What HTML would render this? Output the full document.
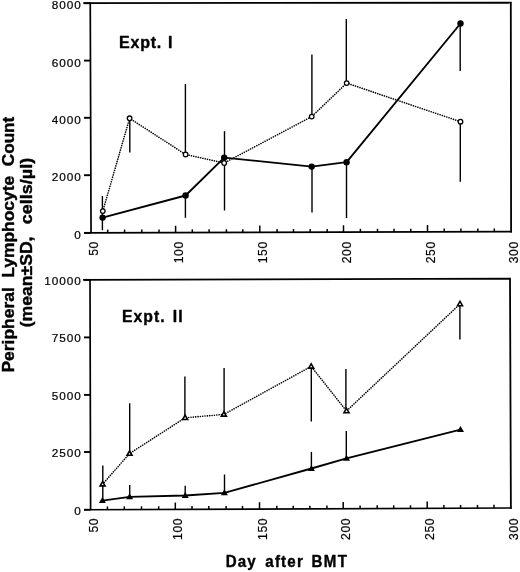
<!DOCTYPE html>
<html><head><meta charset="utf-8"><style>
html,body{margin:0;padding:0;background:#fff;}
svg{display:block;filter:grayscale(1);}
.tl{font-family:"Liberation Sans",sans-serif;fill:#000;stroke:#000;stroke-width:0.2px;}
.bl{font-family:"Liberation Sans",sans-serif;font-weight:bold;fill:#000;stroke:#000;stroke-width:0.4px;stroke-linejoin:round;}
</style></head><body>
<svg width="520" height="572" viewBox="0 0 520 572">
<rect width="520" height="572" fill="#fff"/>
<path d="M83.3 3.15L511.8 2.55M510.8 2.0L511.1 232.5" stroke="#000" stroke-width="1.8" fill="none"/>
<path d="M90.25 2.2L91.05 233.7M84 232.85L511.9 231.6" stroke="#000" stroke-width="1.7" fill="none"/>
<line x1="84" y1="3.20" x2="90.25" y2="3.20" stroke="#000" stroke-width="1.9"/>
<text class="tl" font-size="11.8" letter-spacing="0.95" x="51.83" y="8.63">8000</text>
<line x1="84" y1="60.60" x2="90.45" y2="60.60" stroke="#000" stroke-width="1.9"/>
<text class="tl" font-size="11.8" letter-spacing="0.95" x="51.83" y="66.73">6000</text>
<line x1="84" y1="117.80" x2="90.65" y2="117.80" stroke="#000" stroke-width="1.9"/>
<text class="tl" font-size="11.8" letter-spacing="0.95" x="51.83" y="123.53">4000</text>
<line x1="84" y1="175.20" x2="90.85" y2="175.20" stroke="#000" stroke-width="1.9"/>
<text class="tl" font-size="11.8" letter-spacing="0.95" x="51.83" y="181.03">2000</text>
<line x1="84" y1="232.90" x2="91.05" y2="232.90" stroke="#000" stroke-width="1.9"/>
<text class="tl" font-size="11.8" letter-spacing="0.95" x="74.26" y="238.58">0</text>
<line x1="107.70" y1="232.78" x2="107.70" y2="229.58" stroke="#000" stroke-width="1.5"/>
<line x1="124.60" y1="232.73" x2="124.60" y2="229.53" stroke="#000" stroke-width="1.5"/>
<line x1="141.80" y1="232.68" x2="141.80" y2="229.48" stroke="#000" stroke-width="1.5"/>
<line x1="159.00" y1="232.63" x2="159.00" y2="229.43" stroke="#000" stroke-width="1.5"/>
<line x1="175.60" y1="232.58" x2="175.60" y2="225.78" stroke="#000" stroke-width="1.5"/>
<line x1="192.30" y1="232.53" x2="192.30" y2="229.33" stroke="#000" stroke-width="1.5"/>
<line x1="209.10" y1="232.48" x2="209.10" y2="229.28" stroke="#000" stroke-width="1.5"/>
<line x1="226.40" y1="232.43" x2="226.40" y2="229.23" stroke="#000" stroke-width="1.5"/>
<line x1="242.80" y1="232.39" x2="242.80" y2="229.19" stroke="#000" stroke-width="1.5"/>
<line x1="259.80" y1="232.34" x2="259.80" y2="225.54" stroke="#000" stroke-width="1.5"/>
<line x1="277.10" y1="232.29" x2="277.10" y2="229.09" stroke="#000" stroke-width="1.5"/>
<line x1="293.50" y1="232.24" x2="293.50" y2="229.04" stroke="#000" stroke-width="1.5"/>
<line x1="310.20" y1="232.19" x2="310.20" y2="228.99" stroke="#000" stroke-width="1.5"/>
<line x1="327.20" y1="232.14" x2="327.20" y2="228.94" stroke="#000" stroke-width="1.5"/>
<line x1="343.50" y1="232.09" x2="343.50" y2="225.29" stroke="#000" stroke-width="1.5"/>
<line x1="360.40" y1="232.04" x2="360.40" y2="228.84" stroke="#000" stroke-width="1.5"/>
<line x1="377.50" y1="231.99" x2="377.50" y2="228.79" stroke="#000" stroke-width="1.5"/>
<line x1="394.00" y1="231.94" x2="394.00" y2="228.74" stroke="#000" stroke-width="1.5"/>
<line x1="410.80" y1="231.90" x2="410.80" y2="228.70" stroke="#000" stroke-width="1.5"/>
<line x1="427.50" y1="231.85" x2="427.50" y2="225.05" stroke="#000" stroke-width="1.5"/>
<line x1="444.20" y1="231.80" x2="444.20" y2="228.60" stroke="#000" stroke-width="1.5"/>
<line x1="460.90" y1="231.75" x2="460.90" y2="228.55" stroke="#000" stroke-width="1.5"/>
<line x1="477.80" y1="231.70" x2="477.80" y2="228.50" stroke="#000" stroke-width="1.5"/>
<line x1="494.30" y1="231.65" x2="494.30" y2="228.45" stroke="#000" stroke-width="1.5"/>
<text class="tl" font-size="12.2" letter-spacing="0.6" transform="translate(98.00,255.85) rotate(-90)">50</text>
<text class="tl" font-size="12.2" letter-spacing="0.6" transform="translate(182.60,263.29) rotate(-90)">100</text>
<text class="tl" font-size="12.2" letter-spacing="0.6" transform="translate(266.80,263.29) rotate(-90)">150</text>
<text class="tl" font-size="12.2" letter-spacing="0.6" transform="translate(350.50,263.29) rotate(-90)">200</text>
<text class="tl" font-size="12.2" letter-spacing="0.6" transform="translate(434.50,263.29) rotate(-90)">250</text>
<text class="tl" font-size="12.2" letter-spacing="0.6" transform="translate(518.10,263.29) rotate(-90)">300</text>
<path d="M83.1 279.85L510.9 278.6M510.0 278.0L510.9 508.8" stroke="#000" stroke-width="1.8" fill="none"/>
<path d="M90.0 279.0L90.6 510.6M84 509.75L511.8 508.0" stroke="#000" stroke-width="1.7" fill="none"/>
<line x1="84" y1="279.85" x2="90.00" y2="279.85" stroke="#000" stroke-width="1.9"/>
<text class="tl" font-size="11.8" letter-spacing="0.95" x="44.27" y="285.13">10000</text>
<line x1="84" y1="337.40" x2="90.15" y2="337.40" stroke="#000" stroke-width="1.9"/>
<text class="tl" font-size="11.8" letter-spacing="0.95" x="51.83" y="342.43">7500</text>
<line x1="84" y1="394.90" x2="90.30" y2="394.90" stroke="#000" stroke-width="1.9"/>
<text class="tl" font-size="11.8" letter-spacing="0.95" x="51.83" y="399.93">5000</text>
<line x1="84" y1="452.00" x2="90.45" y2="452.00" stroke="#000" stroke-width="1.9"/>
<text class="tl" font-size="11.8" letter-spacing="0.95" x="51.83" y="457.03">2500</text>
<line x1="84" y1="509.75" x2="90.60" y2="509.75" stroke="#000" stroke-width="1.9"/>
<text class="tl" font-size="11.8" letter-spacing="0.95" x="74.26" y="514.68">0</text>
<line x1="107.40" y1="509.65" x2="107.40" y2="506.45" stroke="#000" stroke-width="1.5"/>
<line x1="124.30" y1="509.59" x2="124.30" y2="506.39" stroke="#000" stroke-width="1.5"/>
<line x1="141.50" y1="509.51" x2="141.50" y2="506.31" stroke="#000" stroke-width="1.5"/>
<line x1="158.70" y1="509.44" x2="158.70" y2="506.24" stroke="#000" stroke-width="1.5"/>
<line x1="175.30" y1="509.38" x2="175.30" y2="502.58" stroke="#000" stroke-width="1.5"/>
<line x1="192.00" y1="509.31" x2="192.00" y2="506.11" stroke="#000" stroke-width="1.5"/>
<line x1="208.80" y1="509.24" x2="208.80" y2="506.04" stroke="#000" stroke-width="1.5"/>
<line x1="226.10" y1="509.17" x2="226.10" y2="505.97" stroke="#000" stroke-width="1.5"/>
<line x1="242.50" y1="509.10" x2="242.50" y2="505.90" stroke="#000" stroke-width="1.5"/>
<line x1="259.50" y1="509.03" x2="259.50" y2="502.23" stroke="#000" stroke-width="1.5"/>
<line x1="276.80" y1="508.96" x2="276.80" y2="505.76" stroke="#000" stroke-width="1.5"/>
<line x1="293.20" y1="508.89" x2="293.20" y2="505.69" stroke="#000" stroke-width="1.5"/>
<line x1="309.90" y1="508.83" x2="309.90" y2="505.63" stroke="#000" stroke-width="1.5"/>
<line x1="326.90" y1="508.76" x2="326.90" y2="505.56" stroke="#000" stroke-width="1.5"/>
<line x1="343.20" y1="508.69" x2="343.20" y2="501.89" stroke="#000" stroke-width="1.5"/>
<line x1="360.10" y1="508.62" x2="360.10" y2="505.42" stroke="#000" stroke-width="1.5"/>
<line x1="377.20" y1="508.55" x2="377.20" y2="505.35" stroke="#000" stroke-width="1.5"/>
<line x1="393.70" y1="508.48" x2="393.70" y2="505.28" stroke="#000" stroke-width="1.5"/>
<line x1="410.50" y1="508.41" x2="410.50" y2="505.21" stroke="#000" stroke-width="1.5"/>
<line x1="427.20" y1="508.35" x2="427.20" y2="501.55" stroke="#000" stroke-width="1.5"/>
<line x1="443.90" y1="508.28" x2="443.90" y2="505.08" stroke="#000" stroke-width="1.5"/>
<line x1="460.60" y1="508.21" x2="460.60" y2="505.01" stroke="#000" stroke-width="1.5"/>
<line x1="477.50" y1="508.14" x2="477.50" y2="504.94" stroke="#000" stroke-width="1.5"/>
<line x1="494.00" y1="508.07" x2="494.00" y2="504.87" stroke="#000" stroke-width="1.5"/>
<text class="tl" font-size="12.2" letter-spacing="0.6" transform="translate(97.70,532.55) rotate(-90)">50</text>
<text class="tl" font-size="12.2" letter-spacing="0.6" transform="translate(182.30,539.99) rotate(-90)">100</text>
<text class="tl" font-size="12.2" letter-spacing="0.6" transform="translate(266.50,539.99) rotate(-90)">150</text>
<text class="tl" font-size="12.2" letter-spacing="0.6" transform="translate(350.20,539.99) rotate(-90)">200</text>
<text class="tl" font-size="12.2" letter-spacing="0.6" transform="translate(434.20,539.99) rotate(-90)">250</text>
<text class="tl" font-size="12.2" letter-spacing="0.6" transform="translate(517.80,539.99) rotate(-90)">300</text>
<line x1="102.4" y1="196.1" x2="102.4" y2="230.2" stroke="#000" stroke-width="1.4"/>
<line x1="129.8" y1="118.3" x2="129.8" y2="152.6" stroke="#000" stroke-width="1.4"/>
<line x1="185.4" y1="84" x2="185.4" y2="154.5" stroke="#000" stroke-width="1.4"/>
<line x1="185.4" y1="195.5" x2="185.4" y2="217.8" stroke="#000" stroke-width="1.4"/>
<line x1="224.5" y1="131.2" x2="224.5" y2="210.5" stroke="#000" stroke-width="1.4"/>
<line x1="311.9" y1="54.6" x2="311.9" y2="116.6" stroke="#000" stroke-width="1.4"/>
<line x1="312.0" y1="166.6" x2="312.0" y2="212.5" stroke="#000" stroke-width="1.4"/>
<line x1="346.3" y1="18.9" x2="346.3" y2="82.7" stroke="#000" stroke-width="1.4"/>
<line x1="346.5" y1="162.2" x2="346.5" y2="218.1" stroke="#000" stroke-width="1.4"/>
<line x1="460.2" y1="23.5" x2="460.2" y2="71.1" stroke="#000" stroke-width="1.4"/>
<line x1="460.3" y1="121.7" x2="460.3" y2="181.8" stroke="#000" stroke-width="1.4"/>
<polyline fill="none" stroke="#000" stroke-width="1.6" stroke-linecap="round" stroke-dasharray="0.05 2.3" points="102.8,211.1 129.6,118.3 185.6,154.5 224.2,163.0 311.7,116.6 346.7,83.1 460.5,121.7"/>
<polyline fill="none" stroke="#000" stroke-width="1.85" stroke-linejoin="round" points="102.6,217.6 185.6,195.5 224.2,157.6 311.7,166.6 346.6,162.2 460.5,23.5"/>
<circle cx="102.8" cy="211.1" r="2.3" fill="#fff" stroke="#000" stroke-width="1.3"/>
<circle cx="129.6" cy="118.3" r="2.3" fill="#fff" stroke="#000" stroke-width="1.3"/>
<circle cx="185.6" cy="154.5" r="2.3" fill="#fff" stroke="#000" stroke-width="1.3"/>
<circle cx="224.2" cy="163.0" r="2.3" fill="#fff" stroke="#000" stroke-width="1.3"/>
<circle cx="311.7" cy="116.6" r="2.3" fill="#fff" stroke="#000" stroke-width="1.3"/>
<circle cx="346.7" cy="83.1" r="2.3" fill="#fff" stroke="#000" stroke-width="1.3"/>
<circle cx="460.5" cy="121.7" r="2.3" fill="#fff" stroke="#000" stroke-width="1.3"/>
<circle cx="102.6" cy="217.6" r="3.2" fill="#000"/>
<circle cx="185.6" cy="195.5" r="3.2" fill="#000"/>
<circle cx="224.2" cy="157.6" r="3.2" fill="#000"/>
<circle cx="311.7" cy="166.6" r="3.2" fill="#000"/>
<circle cx="346.6" cy="162.2" r="3.2" fill="#000"/>
<circle cx="460.5" cy="23.5" r="3.2" fill="#000"/>
<line x1="102.8" y1="465.5" x2="102.8" y2="500.6" stroke="#000" stroke-width="1.4"/>
<line x1="129.7" y1="403.3" x2="129.7" y2="453.6" stroke="#000" stroke-width="1.4"/>
<line x1="129.7" y1="484.9" x2="129.7" y2="496.8" stroke="#000" stroke-width="1.4"/>
<line x1="184.9" y1="376.4" x2="184.9" y2="417.8" stroke="#000" stroke-width="1.4"/>
<line x1="185.2" y1="485.8" x2="185.2" y2="495.5" stroke="#000" stroke-width="1.4"/>
<line x1="224.1" y1="368.1" x2="224.1" y2="414.4" stroke="#000" stroke-width="1.4"/>
<line x1="224.5" y1="474.5" x2="224.5" y2="492.9" stroke="#000" stroke-width="1.4"/>
<line x1="311.3" y1="366.4" x2="311.3" y2="421.6" stroke="#000" stroke-width="1.4"/>
<line x1="311.4" y1="451.9" x2="311.4" y2="468.5" stroke="#000" stroke-width="1.4"/>
<line x1="345.9" y1="369.1" x2="345.9" y2="411.0" stroke="#000" stroke-width="1.4"/>
<line x1="346.3" y1="431.1" x2="346.3" y2="458.4" stroke="#000" stroke-width="1.4"/>
<line x1="459.9" y1="304.0" x2="459.9" y2="339.5" stroke="#000" stroke-width="1.4"/>
<polyline fill="none" stroke="#000" stroke-width="1.6" stroke-linecap="round" stroke-dasharray="0.05 2.3" points="102.6,484.2 129.5,453.6 185.1,417.8 223.9,414.4 311.2,366.4 346.5,411.0 460.0,304.0"/>
<polyline fill="none" stroke="#000" stroke-width="1.85" stroke-linejoin="round" points="102.4,500.6 129.6,496.8 185.2,495.5 224.4,492.9 311.4,468.5 346.5,458.4 460.5,429.6"/>
<polygon points="102.6,481.6 105.1,485.9 100.1,485.9" fill="#fff" stroke="#000" stroke-width="1.6" stroke-linejoin="miter"/>
<polygon points="129.5,451.0 132.0,455.3 127.0,455.3" fill="#fff" stroke="#000" stroke-width="1.6" stroke-linejoin="miter"/>
<polygon points="185.1,415.2 187.6,419.5 182.6,419.5" fill="#fff" stroke="#000" stroke-width="1.6" stroke-linejoin="miter"/>
<polygon points="223.9,411.8 226.4,416.1 221.4,416.1" fill="#fff" stroke="#000" stroke-width="1.6" stroke-linejoin="miter"/>
<polygon points="311.2,363.8 313.7,368.1 308.7,368.1" fill="#fff" stroke="#000" stroke-width="1.6" stroke-linejoin="miter"/>
<polygon points="346.5,408.4 349.0,412.7 344.0,412.7" fill="#fff" stroke="#000" stroke-width="1.6" stroke-linejoin="miter"/>
<polygon points="460.0,301.4 462.5,305.7 457.5,305.7" fill="#fff" stroke="#000" stroke-width="1.6" stroke-linejoin="miter"/>
<polygon points="102.4,497.0 105.9,503.0 98.9,503.0" fill="#000"/>
<polygon points="129.6,493.2 133.1,499.2 126.1,499.2" fill="#000"/>
<polygon points="185.2,491.9 188.7,497.9 181.7,497.9" fill="#000"/>
<polygon points="224.4,489.3 227.9,495.3 220.9,495.3" fill="#000"/>
<polygon points="311.4,464.9 314.9,470.9 307.9,470.9" fill="#000"/>
<polygon points="346.5,454.8 350.0,460.8 343.0,460.8" fill="#000"/>
<polygon points="460.5,426.0 464.0,432.0 457.0,432.0" fill="#000"/>
<text class="bl" font-size="17.25" letter-spacing="0.85" transform="translate(118.98,47.60) scale(0.93,1)">Expt.</text>
<text class="bl" font-size="17.25" letter-spacing="0.00" transform="translate(168.08,47.60) scale(0.93,1)">I</text>
<text class="bl" font-size="16.96" letter-spacing="1.12" transform="translate(122.00,322.40) scale(0.93,1)">Expt.</text>
<text class="bl" font-size="16.96" letter-spacing="1.21" transform="translate(172.65,322.40) scale(0.93,1)">II</text>
<text class="bl" font-size="16.23" letter-spacing="1.25" transform="translate(225.64,567.10) scale(0.93,1)">Day</text>
<text class="bl" font-size="16.23" letter-spacing="1.28" transform="translate(265.30,567.10) scale(0.93,1)">after</text>
<text class="bl" font-size="16.23" letter-spacing="1.59" transform="translate(311.44,567.10) scale(0.93,1)">BMT</text>
<text class="bl" font-size="17.10" transform="translate(14.40,372.62) rotate(-90) scale(1.0230,1)">Peripheral</text>
<text class="bl" font-size="17.10" transform="translate(14.40,277.82) rotate(-90) scale(1.0210,1)">Lymphocyte</text>
<text class="bl" font-size="17.10" transform="translate(14.40,166.19) rotate(-90) scale(1.0027,1)">Count</text>
<text class="bl" font-size="17.10" transform="translate(31.80,327.28) rotate(-90) scale(1.0291,1)">(mean&#177;SD,</text>
<text class="bl" font-size="17.10" transform="translate(31.80,224.22) rotate(-90) scale(1.0525,1)">cells/&#181;l)</text>
</svg>
</body></html>
